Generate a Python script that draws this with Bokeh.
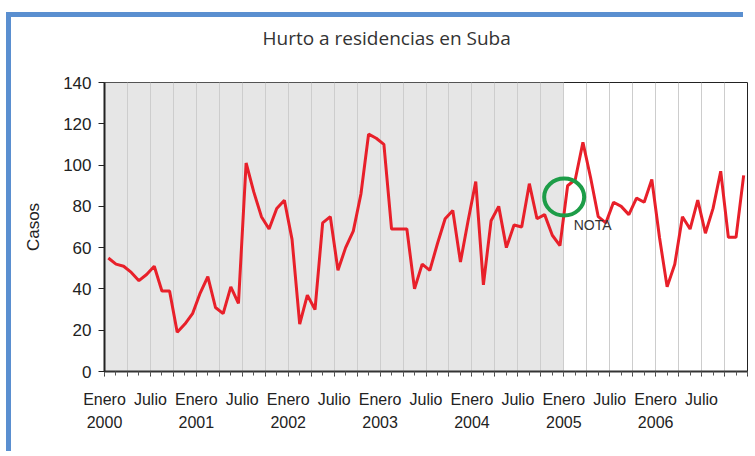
from bokeh.plotting import figure
from bokeh.models import LinearAxis, FixedTicker, Range1d, Label, Title
from bokeh.embed import file_html
from bokeh.resources import INLINE

# ---------------- data ----------------
years = [2000, 2001, 2002, 2003, 2004, 2005, 2006]
month_labels = ["Enero", "Julio"]
casos = [
    55, 52, 51, 48, 44, 47, 51, 39, 39, 19, 23, 28,      # 2000
    38, 46, 31, 28, 41, 33, 101, 87, 75, 69, 79, 83,     # 2001
    64, 23, 37, 30, 72, 75, 49, 60, 68, 86, 115, 113,    # 2002
    110, 69, 69, 69, 40, 52, 49, 62, 74, 78, 53, 73,     # 2003
    92, 42, 73, 80, 60, 71, 70, 91, 74, 76, 66, 61,      # 2004
    90, 93, 111, 94, 75, 72, 82, 80, 76, 84, 82, 93,     # 2005
    65, 41, 52, 75, 69, 83, 67, 79, 97, 65, 65, 95,      # 2006
]
y_ticks = [0, 20, 40, 60, 80, 100, 120, 140]
shade_until_year = 2005
title_text = "Hurto a residencias en Suba"
y_label = "Casos"
note_text = "NOTA"

# annotation anchors (data coordinates)
note_circle = (60.05, 84.5)
note_label = (61.3, 67.3)

# ---------------- derived ----------------
n = len(casos)
xs = [i + 0.5 for i in range(n)]
shade_end = (years.index(shade_until_year)) * 12

p = figure(width=737, height=439, output_backend="svg", toolbar_location=None,
           x_range=Range1d(0, n), y_range=Range1d(0, 140),
           min_border_left=93, min_border_right=1, min_border_top=65,
           min_border_bottom=85, background_fill_color="white",
           border_fill_color="white", title=title_text)

p.styles = {"margin-left": "11px", "margin-top": "17px",
            "box-shadow": "-5px -5px 0px 0px #5a8fd0"}

p.title.text_font = "Open Sans"
p.title.text_font_size = "19px"
p.title.text_font_style = "normal"
p.title.text_color = "#333333"
p.title.align = "left"
p.title.offset = 158
p.title.standoff = 10

# spacer between the frame and the title
p.add_layout(Title(text=" ", text_font_size="1px", standoff=24), "above")

# shaded history region
p.quad(left=[0], right=[shade_end], bottom=[0], top=[140],
       fill_color="#e6e6e6", line_color=None, level="image")

# grid
p.ygrid.grid_line_color = None
p.xgrid.ticker = FixedTicker(ticks=list(range(0, n + 1, 3)))
p.xgrid.grid_line_color = "#cdcdcd"
p.xgrid.grid_line_width = 1

p.outline_line_color = "#222222"
p.outline_line_width = 1

# y axis
ya = p.yaxis[0]
ya.ticker = FixedTicker(ticks=y_ticks)
ya.axis_line_color = "#222222"
ya.axis_line_width = 2
ya.major_tick_out = 6
ya.major_tick_in = 0
ya.major_tick_line_color = "#222222"
ya.minor_tick_line_color = None
ya.major_label_text_font = "Liberation Sans"
ya.major_label_text_font_size = "17px"
ya.major_label_text_color = "#222222"
ya.major_label_standoff = 7
ya.axis_label = y_label
ya.axis_label_text_font = "Liberation Sans"
ya.axis_label_text_font_size = "17px"
ya.axis_label_text_font_style = "normal"
ya.axis_label_text_color = "#222222"
ya.axis_label_standoff = 17

# x axis: month labels
xa = p.xaxis[0]
major = list(range(0, n + 1, 3))
minor = [i * 1.5 for i in range(0, 2 * n // 3 + 1)]
xa.ticker = FixedTicker(ticks=major, minor_ticks=minor)
overrides = {}
for t in major:
    if t % 6 == 0 and t < n:
        overrides[t] = month_labels[(t // 6) % 2]
    else:
        overrides[t] = ""
xa.major_label_overrides = overrides
xa.axis_line_color = "#333333"
xa.axis_line_width = 2
xa.major_tick_out = 5
xa.major_tick_in = 0
xa.minor_tick_out = 4
xa.minor_tick_in = 0
xa.major_tick_line_color = "#333333"
xa.minor_tick_line_color = "#555555"
xa.major_label_text_font = "Liberation Sans"
xa.major_label_text_font_size = "16px"
xa.major_label_text_color = "#222222"
xa.major_label_standoff = 14

# x axis: year labels
year_ticks = [i * 12 for i in range(len(years))]
ya2 = LinearAxis(ticker=FixedTicker(ticks=year_ticks),
                 major_label_overrides={t: str(y) for t, y in zip(year_ticks, years)},
                 axis_line_color=None, major_tick_line_color=None,
                 minor_tick_line_color=None, major_tick_out=0,
                 major_label_standoff=5,
                 major_label_text_font="Liberation Sans",
                 major_label_text_font_size="16px",
                 major_label_text_color="#222222")
p.add_layout(ya2, "below")

# series
p.line(xs, casos, line_color="#e8202a", line_width=3)

# note
p.ellipse(x=[note_circle[0]], y=[note_circle[1]], width=40, height=37,
          width_units="screen", height_units="screen",
          fill_color=None, line_color="#1d9d48", line_width=4)
p.add_layout(Label(x=note_label[0], y=note_label[1], text=note_text,
                   text_font="Liberation Sans", text_font_size="14px",
                   text_color="#333333"))

open("out.html", "w").write(file_html(p, INLINE))
